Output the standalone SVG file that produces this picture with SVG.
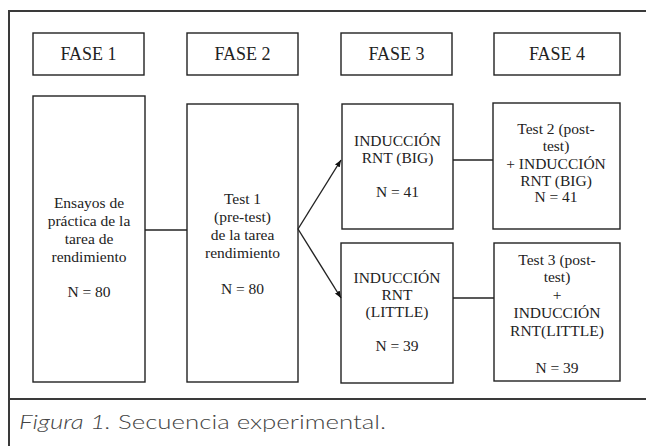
<svg xmlns="http://www.w3.org/2000/svg" width="646" height="446" viewBox="0 0 646 446">
<style>
.box{fill:#fff;stroke:#222;stroke-width:1.4}
.t{font-family:'Liberation Serif','Times New Roman',serif;font-size:15.5px;fill:#222;text-anchor:middle}
.h{font-family:'Liberation Serif','Times New Roman',serif;font-size:18px;fill:#222;text-anchor:middle}
.c{stroke:#222;stroke-width:1.4;fill:none}
.frame{stroke:#3a3a3a;stroke-width:2;fill:none}
.cap{font-family:Lato,'Open Sans','DejaVu Sans',sans-serif;font-size:20px;font-weight:300;fill:#444}
</style>
<defs>
<marker id="ah" viewBox="0 0 10 10" refX="10" refY="5" markerWidth="7" markerHeight="7" orient="auto" markerUnits="userSpaceOnUse">
<path d="M0,1 L10,5 L0,9 z" fill="#111"/>
</marker>
</defs>
<rect width="646" height="446" fill="#fff"/>
<g id="frame">
<path class="frame" d="M9,446 V11 H646"/>
<path class="frame" d="M9,399 H646"/>
</g>
<g id="fase1"><rect class="box" x="33" y="33" width="111" height="42"/><text class="h" x="88.5" y="60">FASE 1</text></g>
<g id="fase2"><rect class="box" x="187" y="33" width="111" height="42"/><text class="h" x="242.5" y="60">FASE 2</text></g>
<g id="fase3"><rect class="box" x="341" y="33" width="111" height="42"/><text class="h" x="396.5" y="60">FASE 3</text></g>
<g id="fase4"><rect class="box" x="494" y="33" width="126" height="42"/><text class="h" x="557" y="60">FASE 4</text></g>
<g id="ensayos"><rect class="box" x="33" y="96" width="112" height="286"/>
<text class="t" x="89" y="208">Ensayos de</text>
<text class="t" x="89" y="226">práctica de la</text>
<text class="t" x="89" y="244">tarea de</text>
<text class="t" x="89" y="262">rendimiento</text>
<text class="t" x="89" y="297">N = 80</text></g>
<g id="test1"><rect class="box" x="187" y="104" width="111" height="278"/>
<text class="t" x="242.5" y="204">Test 1</text>
<text class="t" x="242.5" y="222">(pre-test)</text>
<text class="t" x="242.5" y="240">de la tarea</text>
<text class="t" x="242.5" y="258">rendimiento</text>
<text class="t" x="242.5" y="294">N = 80</text></g>
<g id="big"><rect class="box" x="342" y="104" width="111" height="125"/>
<text class="t" x="397.5" y="146">INDUCCIÓN</text>
<text class="t" x="397.5" y="163">RNT (BIG)</text>
<text class="t" x="397.5" y="197">N = 41</text></g>
<g id="test2"><rect class="box" x="493" y="103" width="127" height="126"/>
<text class="t" x="556" y="134">Test 2 (post-</text>
<text class="t" x="556" y="151">test)</text>
<text class="t" x="556" y="169">+ INDUCCIÓN</text>
<text class="t" x="556" y="186">RNT (BIG)</text>
<text class="t" x="556" y="202">N = 41</text></g>
<g id="little"><rect class="box" x="341" y="243" width="112" height="140"/>
<text class="t" x="397" y="283">INDUCCIÓN</text>
<text class="t" x="397" y="300">RNT</text>
<text class="t" x="397" y="317">(LITTLE)</text>
<text class="t" x="397" y="351">N = 39</text></g>
<g id="test3"><rect class="box" x="494" y="243" width="126" height="138"/>
<text class="t" x="557" y="265">Test 3 (post-</text>
<text class="t" x="557" y="282">test)</text>
<text class="t" x="557" y="300">+</text>
<text class="t" x="557" y="318">INDUCCIÓN</text>
<text class="t" x="557" y="336">RNT(LITTLE)</text>
<text class="t" x="557" y="373">N = 39</text></g>
<g id="connectors">
<path class="c" d="M145,230 H187"/>
<path class="c" d="M298,229 L341,160" marker-end="url(#ah)"/>
<path class="c" d="M298,229 L341,298" marker-end="url(#ah)"/>
<path class="c" d="M453,160 H493"/>
<path class="c" d="M453,298 H494"/>
</g>
<g id="caption">
<text class="cap" x="19" y="429" textLength="367" lengthAdjust="spacingAndGlyphs"><tspan font-style="italic">Figura 1.</tspan> Secuencia experimental.</text>
</g>
</svg>
